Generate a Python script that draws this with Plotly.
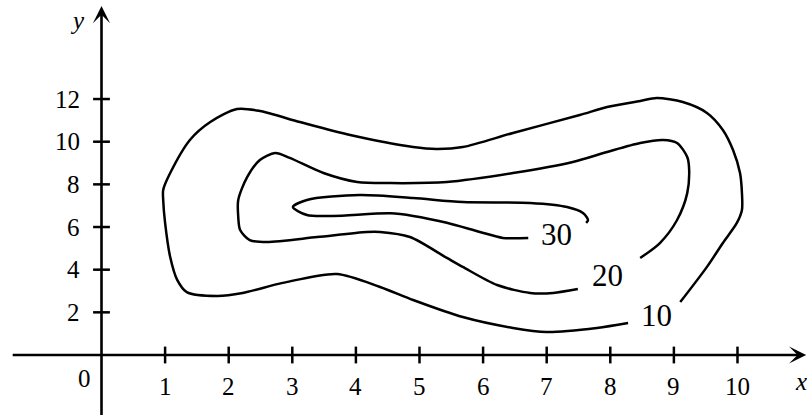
import plotly.graph_objects as go

# ---- data ----
x_ticks = [1, 2, 3, 4, 5, 6, 7, 8, 9, 10]
y_ticks = [2, 4, 6, 8, 10, 12]

levels = ["10", "20", "30"]

c10_x = [8.28, 7.79, 7.00, 6.47, 5.68, 4.90, 4.38, 3.70, 2.85, 2.22, 1.82, 1.34, 1.19, 1.08, 1.00,
         0.97, 0.97, 1.08, 1.39, 1.71, 2.13, 2.49, 3.12, 3.91, 4.90, 5.27, 5.68, 6.47, 7.52, 7.95,
         8.47, 8.73, 9.14, 9.52, 9.77, 9.93, 10.04, 10.07, 10.07, 9.99, 9.77, 9.52, 9.10]
c10_y = [1.50, 1.27, 1.08, 1.27, 1.78, 2.58, 3.19, 3.80, 3.38, 2.91, 2.77, 2.95, 3.52, 4.59, 6.19,
         7.27, 7.74, 8.53, 10.08, 10.92, 11.53, 11.44, 10.92, 10.31, 9.75, 9.66, 9.75, 10.41, 11.25, 11.63,
         11.91, 12.05, 11.86, 11.35, 10.55, 9.61, 8.53, 7.59, 6.80, 6.19, 5.25, 4.13, 2.48]

c20_x = [7.49, 7.10, 6.74, 6.22, 5.68, 5.43, 4.85, 4.38, 4.17, 3.39, 2.60, 2.33, 2.18, 2.15, 2.15,
         2.29, 2.49, 2.73, 2.96, 3.49, 4.02, 4.54, 5.43, 6.47, 7.41, 7.95, 8.47, 8.83, 9.05, 9.21,
         9.24, 9.21, 9.05, 8.78, 8.47]
c20_y = [3.09, 2.91, 2.91, 3.28, 4.13, 4.55, 5.53, 5.77, 5.77, 5.53, 5.30, 5.39, 5.86, 6.47, 7.27,
         8.34, 9.14, 9.47, 9.24, 8.53, 8.11, 8.06, 8.11, 8.53, 9.05, 9.52, 9.94, 10.08, 9.94, 9.28,
         8.67, 7.59, 6.33, 5.25, 4.55]

c30_x = [6.71, 6.31, 5.95, 5.43, 4.90, 4.54, 3.64, 3.23, 3.01, 3.23, 4.06, 4.90, 5.68, 6.74,
         7.32, 7.57, 7.65, 7.62]
c30_y = [5.49, 5.49, 5.77, 6.20, 6.52, 6.64, 6.52, 6.56, 6.94, 7.27, 7.50, 7.36, 7.17, 7.13,
         6.94, 6.66, 6.33, 6.19]

label_x = [8.73, 7.96, 7.16]
label_y = [1.83, 3.75, 5.67]

FONT = "Liberation Serif, Times New Roman, Times, serif"
LW = 2.5

fig = go.Figure()

for cx, cy in [(c10_x, c10_y), (c20_x, c20_y), (c30_x, c30_y)]:
    fig.add_trace(go.Scatter(x=cx, y=cy, mode="lines",
                             line=dict(color="black", width=LW, shape="spline", smoothing=0.8),
                             hoverinfo="skip"))

# tick marks
fig.add_trace(go.Scatter(x=x_ticks, y=[0] * len(x_ticks), mode="markers",
                         marker=dict(symbol="line-ns", size=12, line=dict(color="black", width=2.5)),
                         hoverinfo="skip"))
fig.add_trace(go.Scatter(x=[0] * len(y_ticks), y=y_ticks, mode="markers",
                         marker=dict(symbol="line-ew", size=12, line=dict(color="black", width=2.5)),
                         hoverinfo="skip"))

ann = []
# axes with arrows
ann.append(dict(x=11.08, y=0, ax=-1.42, ay=0, xref="x", yref="y", axref="x", ayref="y",
                showarrow=True, arrowhead=3, arrowsize=1.1, arrowwidth=2.6, arrowcolor="black", text=""))
ann.append(dict(x=0, y=16.36, ax=0, ay=-2.9, xref="x", yref="y", axref="x", ayref="y",
                showarrow=True, arrowhead=3, arrowsize=1.1, arrowwidth=2.6, arrowcolor="black", text=""))

for t in x_ticks:
    ann.append(dict(x=t, y=-1.50, text=str(t), showarrow=False, xanchor="center", yanchor="middle",
                    font=dict(family=FONT, size=25, color="black")))
for t in y_ticks:
    ann.append(dict(x=-0.30, y=t, text=str(t), showarrow=False, xanchor="right", yanchor="middle",
                    font=dict(family=FONT, size=25, color="black")))
ann.append(dict(x=-0.26, y=-1.08, text="0", showarrow=False, xanchor="center", yanchor="middle",
                font=dict(family=FONT, size=25, color="black")))
ann.append(dict(x=-0.38, y=15.7, text="<i>y</i>", showarrow=False, xanchor="center", yanchor="middle",
                font=dict(family=FONT, size=25, color="black")))
ann.append(dict(x=11.0, y=-1.22, text="<i>x</i>", showarrow=False, xanchor="center", yanchor="middle",
                font=dict(family=FONT, size=25, color="black")))

for lx, ly, lv in zip(label_x, label_y, levels):
    ann.append(dict(x=lx, y=ly, text=lv, showarrow=False, xanchor="center", yanchor="middle",
                    font=dict(family=FONT, size=31, color="black")))

fig.update_layout(
    width=807, height=415,
    margin=dict(l=0, r=0, t=0, b=0),
    paper_bgcolor="white", plot_bgcolor="white",
    showlegend=False,
    xaxis=dict(range=[-1.596, 11.093], visible=False, fixedrange=True),
    yaxis=dict(range=[-2.813, 16.643], visible=False, fixedrange=True),
    annotations=ann,
)

fig.write_html("out.html", config={"displayModeBar": False, "staticPlot": True},
               post_script="document.body.style.margin='0px';")
